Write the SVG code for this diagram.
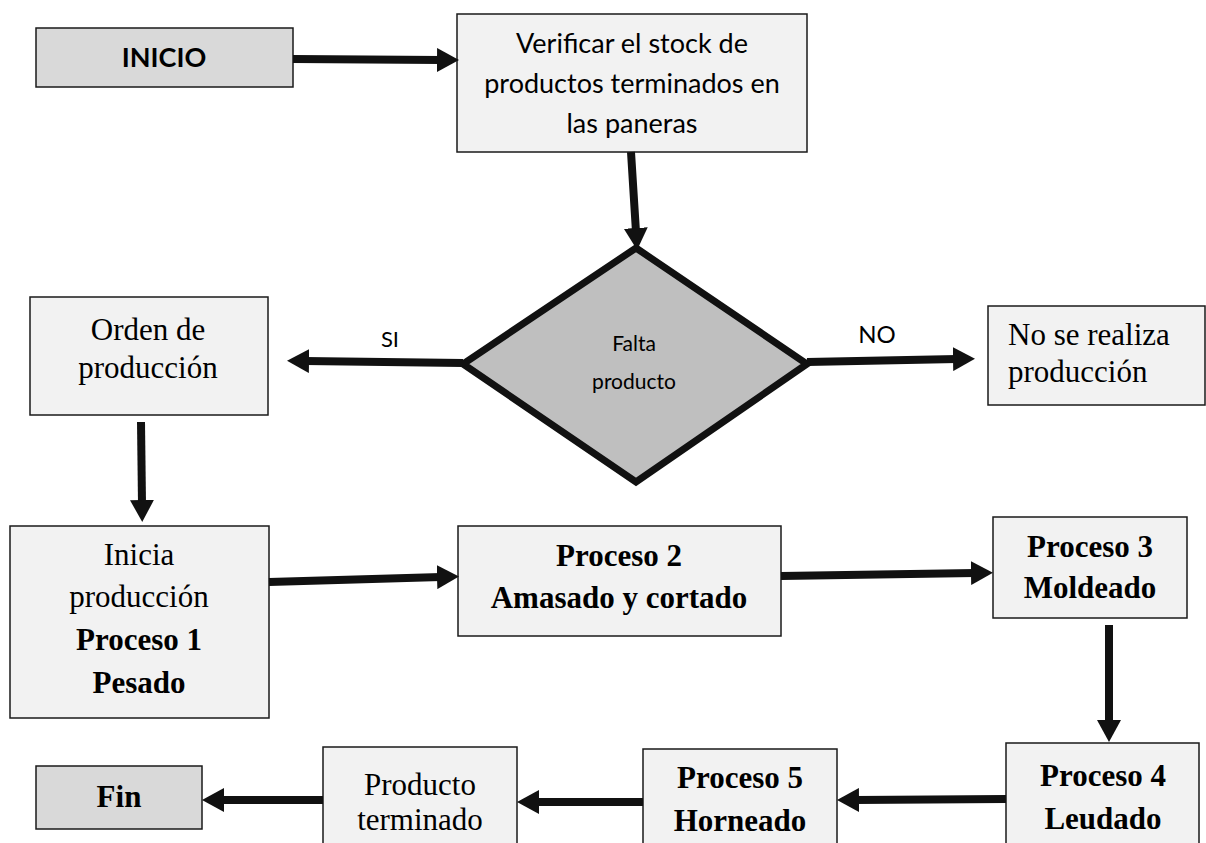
<svg xmlns="http://www.w3.org/2000/svg" width="1206" height="843" viewBox="0 0 1206 843">
<defs>
<style>
.box{fill:#f2f2f2;stroke:#1a1a1a;stroke-width:1.5}
.term{fill:#d9d9d9;stroke:#1a1a1a;stroke-width:1.5}
.dia{fill:#bfbfbf;stroke:#111;stroke-width:7;stroke-linejoin:miter}
.cal{font-family:Lato,"Open Sans","Liberation Sans",sans-serif;fill:#000;text-anchor:middle}
.tnr{font-family:"Liberation Serif","Times New Roman",serif;fill:#000;font-size:31px;text-anchor:middle}
.b{font-weight:bold}
.con line{stroke:#111;stroke-width:8;marker-end:url(#ah)}
</style>
<marker id="ah" markerUnits="userSpaceOnUse" markerWidth="22" markerHeight="24" refX="4" refY="12" orient="auto">
<path d="M0,0 L22,12 L0,24 Z" fill="#111"/>
</marker>
</defs>
<rect width="1206" height="843" fill="#fff"/>

<g id="inicio">
<rect class="term" x="36" y="28" width="257" height="59"/>
<text class="cal b" x="164" y="67" font-size="27">INICIO</text>
</g>

<g id="verificar">
<rect class="box" x="457" y="14" width="350" height="138"/>
<text class="cal" font-size="27"><tspan x="632" y="53">Verificar el stock de</tspan><tspan x="632" y="93">productos terminados en</tspan><tspan x="632" y="133">las paneras</tspan></text>
</g>

<g id="decision">
<polygon class="dia" points="636,248 807,364 636,482 463,364"/>
<text class="cal" font-size="21"><tspan x="634" y="351">Falta</tspan><tspan x="634" y="389">producto</tspan></text>
</g>

<g id="orden">
<rect class="box" x="30" y="297" width="238" height="118"/>
<text class="tnr"><tspan x="148" y="340">Orden de</tspan><tspan x="148" y="378">producción</tspan></text>
</g>

<g id="no-produccion">
<rect class="box" x="988" y="306" width="217" height="99"/>
<text class="tnr" style="text-anchor:start"><tspan x="1008" y="345">No se realiza</tspan><tspan x="1008" y="382">producción</tspan></text>
</g>

<g id="proceso1">
<rect class="box" x="10" y="526" width="259" height="192"/>
<text class="tnr"><tspan x="139" y="565">Inicia</tspan><tspan x="139" y="607">producción</tspan><tspan x="139" y="650" class="b">Proceso 1</tspan><tspan x="139" y="693" class="b">Pesado</tspan></text>
</g>

<g id="proceso2">
<rect class="box" x="458" y="526" width="323" height="110"/>
<text class="tnr b"><tspan x="619" y="566">Proceso 2</tspan><tspan x="619" y="608">Amasado y cortado</tspan></text>
</g>

<g id="proceso3">
<rect class="box" x="993" y="517" width="194" height="101"/>
<text class="tnr b"><tspan x="1090" y="557">Proceso 3</tspan><tspan x="1090" y="598">Moldeado</tspan></text>
</g>

<g id="proceso4">
<rect class="box" x="1006" y="743" width="193" height="110"/>
<text class="tnr b"><tspan x="1103" y="786">Proceso 4</tspan><tspan x="1103" y="829">Leudado</tspan></text>
</g>

<g id="proceso5">
<rect class="box" x="643" y="749" width="194" height="104"/>
<text class="tnr b"><tspan x="740" y="788">Proceso 5</tspan><tspan x="740" y="831">Horneado</tspan></text>
</g>

<g id="producto-terminado">
<rect class="box" x="323" y="747" width="194" height="106"/>
<text class="tnr"><tspan x="420" y="795">Producto</tspan><tspan x="420" y="830">terminado</tspan></text>
</g>

<g id="fin">
<rect class="term" x="36" y="766" width="166" height="63"/>
<text class="tnr b" x="119" y="807">Fin</text>
</g>

<g id="connectors" class="con">
<line x1="293" y1="59" x2="441" y2="60"/>
<line x1="631" y1="152" x2="636" y2="232"/>
<line x1="463" y1="363" x2="305" y2="361"/>
<line x1="807" y1="362" x2="957" y2="359"/>
<line x1="141" y1="422" x2="142" y2="504"/>
<line x1="269" y1="582" x2="441" y2="577"/>
<line x1="781" y1="576" x2="975" y2="573"/>
<line x1="1109" y1="625" x2="1109" y2="724"/>
<line x1="1006" y1="799" x2="855" y2="800"/>
<line x1="643" y1="802" x2="535" y2="802"/>
<line x1="323" y1="800" x2="220" y2="800"/>
</g>
<g id="labels">
<text class="cal" x="390" y="347" font-size="22">SI</text>
<text class="cal" x="877" y="343" font-size="24">NO</text>
</g>
</svg>
